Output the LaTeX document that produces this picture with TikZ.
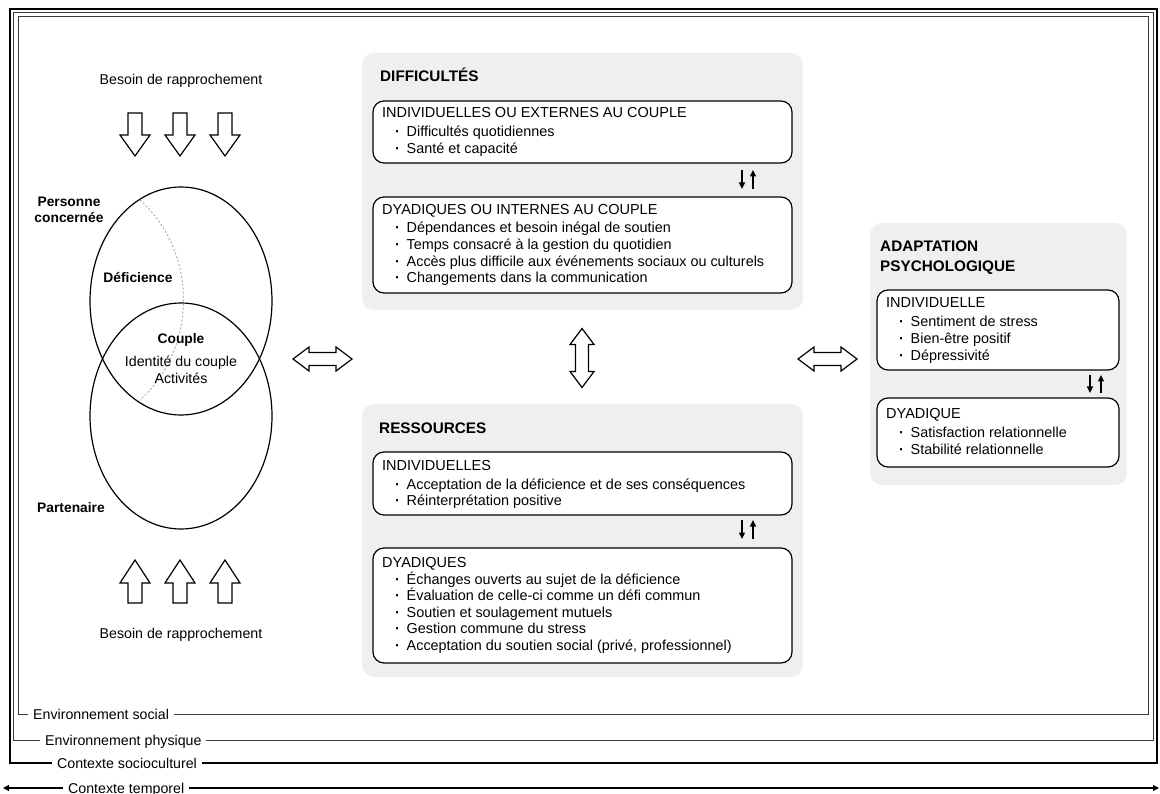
\documentclass[tikz,border=0pt]{standalone}
\usepackage{fontspec}
\setmainfont{Liberation Sans}
\usetikzlibrary{arrows.meta,calc}
\definecolor{panelgray}{HTML}{EFEFEF}
\definecolor{framegray}{HTML}{3A3A3A}
\definecolor{dotgray}{HTML}{B0B0B0}
\tikzset{
  panel/.style={fill=panelgray, draw=none, rounded corners=12pt, inner sep=0pt, outer sep=0pt, anchor=north west},
  sbox/.style={draw=black, fill=white, line width=1.2pt, rounded corners=11pt, inner sep=0pt, outer sep=0pt, anchor=north west},
  ttl/.style={font=\fontsize{15.3}{18}\selectfont\bfseries, anchor=base west, inner sep=0pt},
  hdr/.style={font=\fontsize{14.5}{17}\selectfont, anchor=base west, inner sep=0pt},
  bul/.style={font=\fontsize{14.4}{17}\selectfont, anchor=base west, inner sep=0pt},
  lbl/.style={font=\fontsize{14.2}{17}\selectfont, anchor=base, inner sep=0pt},
  blbl/.style={font=\fontsize{13.8}{16}\selectfont\bfseries, anchor=base, inner sep=0pt},
  envlbl/.style={font=\fontsize{14.2}{17}\selectfont, anchor=base west, fill=white, inner xsep=5pt, inner ysep=2pt},
  blk/.style={draw=black, line width=1.2pt, fill=white, line join=miter},
  smallarr/.style={line width=1.4pt, -{Triangle[length=6.5pt,width=6pt]}},
  venn/.style={draw=black, line width=1.2pt},
  dnarr/.pic={\draw[blk] (-7,0) -- (7,0) -- (7,22) -- (15,22) -- (0,43) -- (-15,22) -- (-7,22) -- cycle;},
  uparr/.pic={\draw[blk] (0,0) -- (15,23) -- (7,23) -- (7,43) -- (-7,43) -- (-7,23) -- (-15,23) -- cycle;},
  dblarr/.pic={\draw[blk] (-29.5,0) -- (-13.5,-12) -- (-13.5,-6.5) -- (13.5,-6.5) -- (13.5,-12) -- (29.5,0) -- (13.5,12) -- (13.5,6.5) -- (-13.5,6.5) -- (-13.5,12) -- cycle;}
}
\newcommand\boxtext[6]{% #1 prefix, #2 x left, #3 header baseline, #4 first bullet baseline, #5 header, #6 bullets
  \node[hdr] (#1h) at (#2+9,#3) {#5};
  \foreach \txt [count=\i] in {#6} {
    \node[bul] (#1b\i) at (#2+22,#4+16.6*\i-16.6) {\makebox[11.5pt][l]{\bfseries ·}\txt};
  }
}
\begin{document}
\begin{tikzpicture}[x=1pt,y=-1pt]
\useasboundingbox (0,0) rectangle (1160,794);

% ---------- context frames ----------
\draw[framegray, line width=1pt] (18,17) rectangle (1148,714);
\draw[framegray, line width=1pt] (13.5,13) rectangle (1153,740);
\draw[black, line width=2pt] (9.5,9) rectangle (1157,763);
\coordinate (tl) at (3,788);
\coordinate (tr) at (1159,788);
\draw[black, line width=1.2pt, {Triangle[length=6pt,width=6pt]}-{Triangle[length=6pt,width=6pt]}] (tl) -- (tr);
\node[envlbl] (es) at (28,719) {Environnement social};
\node[envlbl] (ep) at (40,745) {Environnement physique};
\node[envlbl] (cs) at (52,768) {Contexte socioculturel};
\node[envlbl] (ct) at (63,793) {Contexte temporel};

% ---------- Venn ----------
\draw[venn] (181,301) ellipse [x radius=91pt, y radius=114pt];
\draw[venn] (181,416) ellipse [x radius=91pt, y radius=113pt];
\coordinate (dfa) at (140,200);
\coordinate (dfb) at (140,400);
\draw[dotgray, line width=1pt, dash pattern=on 2pt off 2pt] (dfa) .. controls (198,252) and (198,348) .. (dfb);
\node[blbl] (pc1) at (69,207) {Personne};
\node[blbl] (pc2) at (69,223) {concernée};
\node[blbl] (def) at (138,283) {Déficience};
\node[blbl] (cpl) at (181,344) {Couple};
\node[lbl] (idc) at (181,367) {Identité du couple};
\node[lbl] (act) at (181,384) {Activités};
\node[blbl] (par) at (71,512) {Partenaire};

\node[lbl] (brt) at (181,85) {Besoin de rapprochement};
\node[lbl] (brb) at (181,638) {Besoin de rapprochement};
\pic at (135,113) {dnarr};
\pic at (180,113) {dnarr};
\pic at (225,113) {dnarr};
\pic at (135,560) {uparr};
\pic at (180,560) {uparr};
\pic at (225,560) {uparr};

% ---------- block double arrows ----------
\pic at (322.5,359) {dblarr};
\pic at (827.5,359) {dblarr};
\pic[rotate=90] at (582,358) {dblarr};

% ---------- DIFFICULTES ----------
\node[panel, minimum width=441pt, minimum height=257pt] (pd) at (362,53) {};
\node[ttl] (pdt) at (380,82) {DIFFICULTÉS};
\node[sbox, minimum width=419pt, minimum height=62pt] (d1) at (373,101) {};
\boxtext{d1}{373}{118}{137}{INDIVIDUELLES OU EXTERNES AU COUPLE}{Difficultés quotidiennes, Santé et capacité}
\node[sbox, minimum width=419pt, minimum height=96pt] (d2) at (373,197) {};
\boxtext{d2}{373}{215}{233}{DYADIQUES OU INTERNES AU COUPLE}{Dépendances et besoin inégal de soutien, Temps consacré à la gestion du quotidien, Accès plus difficile aux événements sociaux ou culturels, Changements dans la communication}
\coordinate (da1) at (742,170); \coordinate (da2) at (742,189);
\coordinate (da3) at (753,189); \coordinate (da4) at (753,170);
\draw[smallarr] (da1) -- (da2);
\draw[smallarr] (da3) -- (da4);

% ---------- RESSOURCES ----------
\node[panel, minimum width=441pt, minimum height=273pt] (pr) at (362,404) {};
\node[ttl] (prt) at (379,433) {RESSOURCES};
\node[sbox, minimum width=419pt, minimum height=63pt] (r1) at (373,452) {};
\boxtext{r1}{373}{470}{489}{INDIVIDUELLES}{Acceptation de la déficience et de ses conséquences, Réinterprétation positive}
\node[sbox, minimum width=419pt, minimum height=115pt] (r2) at (373,548) {};
\boxtext{r2}{373}{567}{584}{DYADIQUES}{Échanges ouverts au sujet de la déficience, Évaluation de celle-ci comme un défi commun, Soutien et soulagement mutuels, Gestion commune du stress, {Acceptation du soutien social (privé, professionnel)}}
\coordinate (ra1) at (742,520); \coordinate (ra2) at (742,539);
\coordinate (ra3) at (753,539); \coordinate (ra4) at (753,520);
\draw[smallarr] (ra1) -- (ra2);
\draw[smallarr] (ra3) -- (ra4);

% ---------- ADAPTATION ----------
\node[panel, minimum width=257pt, minimum height=262pt] (pa) at (870,223) {};
\node[ttl] (pat1) at (880,252) {ADAPTATION};
\node[ttl] (pat2) at (880,272) {PSYCHOLOGIQUE};
\node[sbox, minimum width=242pt, minimum height=80pt] (a1) at (877,290) {};
\boxtext{a1}{877}{308}{327}{INDIVIDUELLE}{Sentiment de stress, Bien-être positif, Dépressivité}
\node[sbox, minimum width=242pt, minimum height=69pt] (a2) at (877,398) {};
\boxtext{a2}{877}{418}{438}{DYADIQUE}{Satisfaction relationnelle, Stabilité relationnelle}
\coordinate (aa1) at (1090,375); \coordinate (aa2) at (1090,393);
\coordinate (aa3) at (1101,393); \coordinate (aa4) at (1101,375);
\draw[smallarr] (aa1) -- (aa2);
\draw[smallarr] (aa3) -- (aa4);
\end{tikzpicture}
\end{document}
